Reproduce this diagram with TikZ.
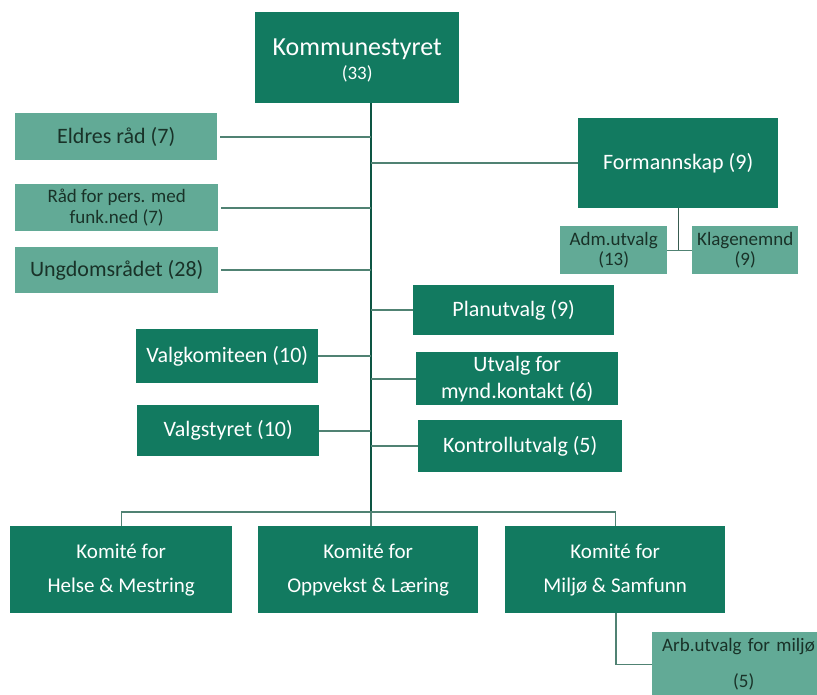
\documentclass[tikz,border=0pt]{standalone}
\usepackage{fontspec}
\setmainfont{Carlito}
\definecolor{dkg}{RGB}{18,122,96}
\definecolor{ltg}{RGB}{98,170,150}
\definecolor{lnc}{RGB}{80,130,115}
\definecolor{txd}{RGB}{25,50,40}
\begin{document}
\begin{tikzpicture}[x=1pt,y=-1pt,
  dark/.style={fill=dkg,text=white,anchor=north west,inner sep=0pt,align=center,font=\fontsize{22}{27}\selectfont},
  light/.style={fill=ltg,text=txd,anchor=north west,inner sep=0pt,align=center,font=\fontsize{22}{26}\selectfont},
  small/.style={font=\fontsize{19}{21}\selectfont},
  conn/.style={draw=lnc,line width=1.8pt},
  trunk/.style={draw=dkg!70!black,line width=1.4pt}]
\useasboundingbox (0,0) rectangle (817,695);
% top
\node[dark,minimum width=204pt,minimum height=91pt] (ks) at (255,12) {};
\node[text=white,align=center,inner sep=0pt] (kst) at ([yshift=-3pt]ks.center)
  {{\fontsize{26}{28}\selectfont Kommunestyret}\\[5pt]{\fontsize{19}{20}\selectfont (33)}};
\coordinate (tt) at (371,103);
\coordinate (tb) at (371,512);
% left light
\node[light,minimum width=202pt,minimum height=47pt] (eld) at (15,113) {Eldres råd (7)};
\node[light,small,minimum width=203pt,minimum height=47pt] (raad) at (15,184) {Råd for pers. med\\funk.ned (7)};
\node[light,minimum width=203pt,minimum height=46pt] (ung) at (15,247) {Ungdomsrådet (28)};
% formannskap
\node[dark,minimum width=200pt,minimum height=90pt] (form) at (578,118) {Formannskap (9)};
\node[light,minimum width=107pt,minimum height=48pt,font=\fontsize{19}{20}\selectfont] (adm) at (560,226) {Adm.utvalg\\(13)};
\node[light,minimum width=106pt,minimum height=48pt,font=\fontsize{19}{20}\selectfont] (klage) at (692,226) {Klagenemnd\\(9)};
% right dark
\node[dark,minimum width=201pt,minimum height=50pt] (plan) at (413,285) {Planutvalg (9)};
\node[dark,minimum width=202pt,minimum height=53pt] (mynd) at (416,352) {Utvalg for\\mynd.kontakt (6)};
\node[dark,minimum width=204pt,minimum height=52pt] (kontr) at (418,420) {Kontrollutvalg (5)};
% left dark
\node[dark,minimum width=182pt,minimum height=54pt] (vkom) at (136,329) {Valgkomiteen (10)};
\node[dark,minimum width=182pt,minimum height=51pt] (vsty) at (137,405) {Valgstyret (10)};
% komiteer
\node[dark,minimum width=222pt,minimum height=87pt,font=\fontsize{21}{34}\selectfont] (k1) at (10,526) {Komité for\\Helse \& Mestring};
\node[dark,minimum width=220pt,minimum height=87pt,font=\fontsize{21}{34}\selectfont] (k2) at (258,526) {Komité for\\Oppvekst \& Læring};
\node[dark,minimum width=220pt,minimum height=87pt,font=\fontsize{21}{34}\selectfont] (k3) at (505,526) {Komité for\\Miljø \& Samfunn};
\node[light,minimum width=180pt,minimum height=64pt,font=\fontsize{19}{36}\selectfont,align=left,text width=172pt] (arb) at (652,632) {\hspace*{6pt}Arb.utvalg for miljø\\\hspace*{77pt}(5)};
% connectors
\draw[trunk] (tt) -- (tb);
\draw[conn] ([xshift=3pt]eld.east) -- (eld.east -| tt);
\draw[conn] ([xshift=3pt]raad.east) -- (raad.east -| tt);
\draw[conn] ([xshift=3pt]ung.east) -- (ung.east -| tt);
\draw[conn] (form.west) -- (form.west -| tt);
\draw[conn] (plan.west) -- (plan.west -| tt);
\draw[conn] (mynd.west) -- (mynd.west -| tt);
\draw[conn] (kontr.west) -- (kontr.west -| tt);
\draw[conn] (vkom.east) -- (vkom.east -| tt);
\draw[conn] (vsty.east) -- (vsty.east -| tt);
\coordinate (fj) at (form.south |- adm.east);
\draw[conn,draw=lnc!70!black,line width=1.2pt] (form.south) -- (fj);
\draw[conn,line width=1.2pt] (adm.east) -- (klage.west);
\draw[conn,line width=1.2pt] (k1.north) |- (tb) -| (k3.north);
\draw[conn,line width=1.2pt] (tb) -- (k2.north -| tb);
\draw[conn,line width=1.4pt] (k3.south -| 616,0) |- (arb.west);
\end{tikzpicture}
\end{document}
